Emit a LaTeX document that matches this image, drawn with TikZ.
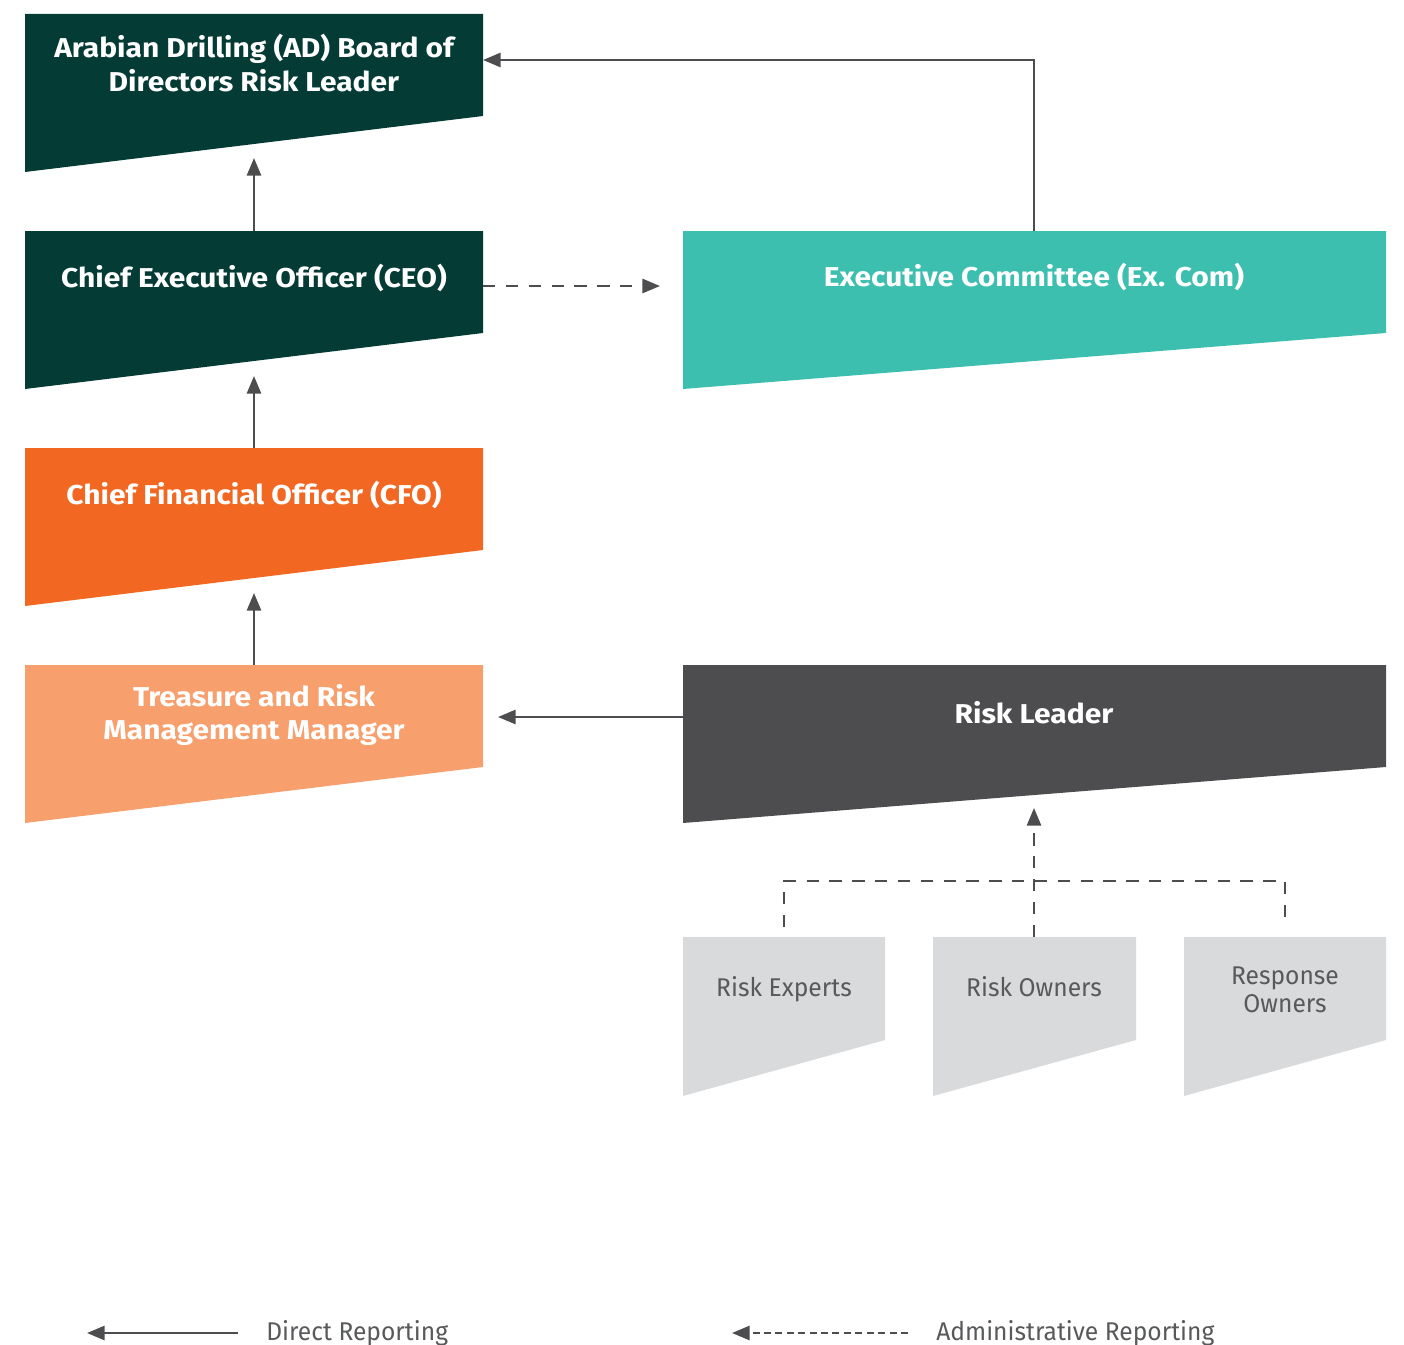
\documentclass[tikz,border=0pt]{standalone}
\usepackage{fontspec}
\setmainfont{Fira Sans}[FakeStretch=0.96]
\newfontfamily\boldfam{Fira Sans}[FakeStretch=1.1]
\usetikzlibrary{arrows.meta}
\definecolor{dgreen}{HTML}{043B35}
\definecolor{teal}{HTML}{3DBFB0}
\definecolor{orange}{HTML}{F26722}
\definecolor{lorange}{HTML}{F89F6E}
\definecolor{dgrey}{HTML}{4D4D4F}
\definecolor{lgrey}{HTML}{D9DADC}
\definecolor{txtgrey}{HTML}{58595B}
\definecolor{arr}{HTML}{4D4D4F}
\tikzset{
  boldtxt/.style={text=white,font=\boldfam\fontsize{15.5}{19.3}\selectfont\bfseries,align=center,inner sep=0},
  lighttxt/.style={text=txtgrey,font=\fontsize{14.6}{16}\selectfont,align=center,inner sep=0},
  link/.style={draw=arr,line width=1.4pt,-{Triangle[length=10pt,width=8pt]}},
  dlink/.style={link,dash pattern=on 7pt off 6pt},
  dline/.style={draw=arr,line width=1.4pt,dash pattern=on 7pt off 6pt},
}
\begin{document}
\begin{tikzpicture}[x=0.02cm,y=-0.02cm]
\useasboundingbox (0,0) rectangle (1404,1345);
% shapes
\newcommand{\shp}[6]{\fill[#6] (#1,#3) -- (#2,#3) -- (#2,#5) -- (#1,#4) -- cycle;}
\shp{25}{483}{14}{172}{116}{dgreen}
\shp{25}{483}{231}{389}{333}{dgreen}
\shp{25}{483}{448}{606}{550}{orange}
\shp{25}{483}{665}{823}{767}{lorange}
\shp{683}{1386}{231}{389}{333}{teal}
\shp{683}{1386}{665}{823}{767}{dgrey}
\shp{683}{885}{937}{1096}{1040}{lgrey}
\shp{933}{1136}{937}{1096}{1040}{lgrey}
\shp{1184}{1386}{937}{1096}{1040}{lgrey}
% named anchors
\coordinate (bodB) at (254,158);
\coordinate (bodR) at (483,60);
\coordinate (ceoT) at (254,231);
\coordinate (ceoB) at (254,376);
\coordinate (ceoR) at (483,286);
\coordinate (cfoT) at (254,448);
\coordinate (cfoB) at (254,593);
\coordinate (trmT) at (254,665);
\coordinate (trmR) at (498,717);
\coordinate (excT) at (1034,231);
\coordinate (excL) at (660,286);
\coordinate (rlL) at (683,717);
\coordinate (rlB) at (1034,808);
\coordinate (reT) at (784,927);
\coordinate (roT) at (1034,937);
\coordinate (rsT) at (1285,927);
\coordinate (jL) at (784,881);
\coordinate (jR) at (1285,881);
% texts
\node[boldtxt] (t1) at (254,63) {Arabian Drilling (AD) Board of\\Directors Risk Leader};
\node[boldtxt] (t2) at (254,278) {Chief Executive Officer (CEO)};
\node[boldtxt] (t3) at (254,495) {Chief Financial Officer (CFO)};
\node[boldtxt] (t4) at (254,715) {Treasure and Risk\\Management Manager};
\node[boldtxt] (t5) at (1034,277) {Executive Committee (Ex. Com)};
\node[boldtxt] (t6) at (1034,713) {Risk Leader};
\node[lighttxt,anchor=base] (t7) at (784,996) {Risk Experts};
\node[lighttxt,anchor=base] (t8) at (1034,996) {Risk Owners};
\node[lighttxt] (t9) at (1285,990) {Response\\Owners};
% connectors
\draw[link] (ceoT) -- (bodB);
\draw[link] (cfoT) -- (ceoB);
\draw[link] (trmT) -- (cfoB);
\draw[link] (excT) |- (bodR);
\draw[dlink] (ceoR) -- (excL);
\draw[link] (rlL) -- (trmR);
\draw[dline] (reT) -- (jL) -- (jR) -- (rsT);
\draw[dlink] (roT) -- (rlB);
% legend
\coordinate (l1a) at (238,1333);
\coordinate (l1b) at (87,1333);
\coordinate (l2a) at (908,1333);
\coordinate (l2b) at (732,1333);
\draw[link] (l1a) -- (l1b);
\draw[link,dash pattern=on 4pt off 2.5pt] (l2a) -- (l2b);
\node[lighttxt,anchor=west] (lg1) at (266,1333) {Direct Reporting};
\node[lighttxt,anchor=west] (lg2) at (936,1333) {Administrative Reporting};
\end{tikzpicture}
\end{document}
